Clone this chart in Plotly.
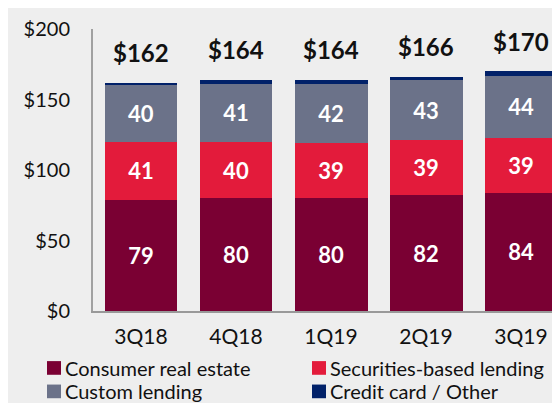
import plotly.graph_objects as go

categories = ["3Q18", "4Q18", "1Q19", "2Q19", "3Q19"]
consumer_real_estate = [79, 80, 80, 82, 84]
securities_based = [41, 40, 39, 39, 39]
custom_lending = [40, 41, 42, 43, 44]
credit_card_other = [2, 3, 3, 2, 3]
totals = [162, 164, 164, 166, 170]
y_ticks = [0, 50, 100, 150, 200]
y_tick_labels = ["$0", "$50", "$100", "$150", "$200"]

series = [
    ("Consumer real estate", consumer_real_estate, "#7A0033", True),
    ("Securities-based lending", securities_based, "#E31B3B", True),
    ("Custom lending", custom_lending, "#6B7289", True),
    ("Credit card / Other", credit_card_other, "#012169", False),
]

FONT = "Lato"
fig = go.Figure()
for name, vals, color, show_text in series:
    fig.add_trace(go.Bar(
        x=categories, y=vals, name=name,
        marker=dict(color=color, line=dict(width=0)),
        text=[str(v) for v in vals] if show_text else None,
        textposition="inside" if show_text else "none",
        insidetextanchor="middle",
        textangle=0,
        constraintext="none",
        textfont=dict(family=FONT, size=22, color="white", weight="bold"),
        hoverinfo="skip",
    ))

for c, t in zip(categories, totals):
    fig.add_annotation(x=c, y=t, text=f"${t}", showarrow=False,
                       yanchor="middle", yshift=30,
                       font=dict(family=FONT, size=24, color="#111111", weight="bold"))

# manual legend (positions in figure pixels)
plot_l, plot_w = 85, 467
plot_t, plot_h = 14, 288.7
def px(xp):
    return (xp - plot_l) / plot_w
def py(yp):
    return 1 - (yp - plot_t) / plot_h

legend_pos = [(39, 361), (304, 361), (39, 385), (304, 385)]
for (name, vals, color, _), (lx, ly) in zip(series, legend_pos):
    fig.add_shape(type="rect", xref="paper", yref="paper",
                  x0=px(lx), x1=px(lx + 14), y0=py(ly + 7), y1=py(ly - 7),
                  fillcolor=color, line=dict(width=0))
    fig.add_annotation(xref="paper", yref="paper", x=px(lx + 16), y=py(ly),
                       text=name, showarrow=False, xanchor="left", yanchor="middle",
                       font=dict(family=FONT, size=20, color="#111111"))

fig.update_layout(
    barmode="stack",
    bargap=0.232,
    width=560, height=403,
    margin=dict(l=85, r=8, t=14, b=100.3),
    paper_bgcolor="#EEEEEE",
    plot_bgcolor="#EEEEEE",
    showlegend=False,
    font=dict(family=FONT, color="#111111"),
)
fig.update_xaxes(
    range=[-0.505, 4.41],
    showline=True, linecolor="#999999", linewidth=2,
    showgrid=False, zeroline=False, ticks="",
    tickfont=dict(family=FONT, size=21, color="#111111"),
    ticklabelstandoff=6,
)
fig.update_yaxes(
    range=[0, 200],
    tickvals=y_ticks, ticktext=y_tick_labels,
    showline=True, linecolor="#A0A0A0", linewidth=2,
    showgrid=False, zeroline=False, ticks="",
    tickfont=dict(family=FONT, size=20, color="#111111"),
    ticklabelstandoff=17,
)

fig.write_html("out.html")
